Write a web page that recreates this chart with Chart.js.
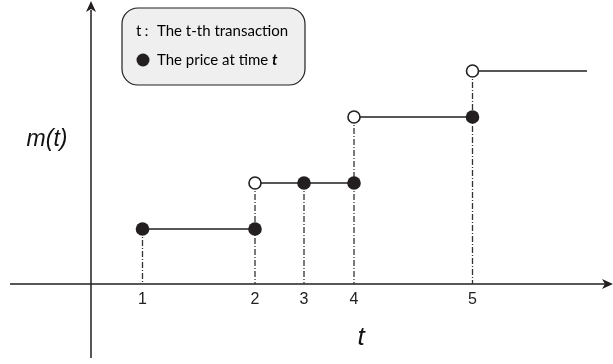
<!DOCTYPE html>
<html>
<head>
<meta charset="utf-8">
<script src="https://cdn.jsdelivr.net/npm/chart.js@4/dist/chart.umd.min.js"></script>
<style>
html,body{margin:0;padding:0;background:#fff;}
#c{display:block;}
</style>
</head>
<body>
<canvas id="c" width="613" height="364"></canvas>
<script>
// ---- data (time positions on a continuous time axis, price levels) ----
const transactionTimes = [5.15, 16.4, 21.3, 26.3, 38.15];
const tickLabels = ['1', '2', '3', '4', '5'];
const filledPrices = [5.5, 5.5, 10.1, 10.1, 16.7];
const openTimes = [16.4, 26.3, 38.15];
const openPrices = [10.1, 16.7, 21.3];
const stepStarts = [5.15, 16.4, 26.3, 38.15];
const stepEnds = [16.4, 26.3, 38.15, 49.6];
const stepLevels = [5.5, 10.1, 16.7, 21.3];
const dropTops = [5.5, 10.1, 10.1, 16.7, 21.3];
const xAxisRange = [-8.1, 51.6];
const yAxisRange = [-7.4, 27.4];
const xLimits = [-9.1, 52.2];
const yLimits = [-8.0, 28.4];

const INK = '#231f20';

// build datasets from arrays
const axisData = [
  {x: xAxisRange[0], y: 0}, {x: xAxisRange[1], y: 0}, {x: xAxisRange[1], y: null},
  {x: 0, y: yAxisRange[0]}, {x: 0, y: yAxisRange[1]}
];
const dropData = [];
transactionTimes.forEach((t, i) => {
  dropData.push({x: t, y: dropTops[i]}, {x: t, y: 0}, {x: t, y: null});
});
const stepData = [];
stepStarts.forEach((s, i) => {
  stepData.push({x: s, y: stepLevels[i]}, {x: stepEnds[i], y: stepLevels[i]}, {x: stepEnds[i], y: null});
});
const filledData = transactionTimes.map((t, i) => ({x: t, y: filledPrices[i]}));
const openData = openTimes.map((t, i) => ({x: t, y: openPrices[i]}));

const decorPlugin = {
  id: 'decor',
  afterDatasetsDraw(chart) {
    const ctx = chart.ctx;
    const xs = chart.scales.x, ys = chart.scales.y;
    const x0 = xs.getPixelForValue(0), y0 = ys.getPixelForValue(0);
    ctx.save();
    ctx.fillStyle = INK;
    // x arrow
    const xt = xs.getPixelForValue(xLimits[1]);
    ctx.beginPath();
    ctx.moveTo(xt, y0);
    ctx.lineTo(xt - 11, y0 - 5);
    ctx.lineTo(xt - 8, y0);
    ctx.lineTo(xt - 11, y0 + 5);
    ctx.closePath();
    ctx.fill();
    // y arrow
    const yt = ys.getPixelForValue(yLimits[1]) + 1;
    ctx.beginPath();
    ctx.moveTo(x0, yt);
    ctx.lineTo(x0 - 5, yt + 11);
    ctx.lineTo(x0, yt + 8);
    ctx.lineTo(x0 + 5, yt + 11);
    ctx.closePath();
    ctx.fill();

    // tick labels
    ctx.fillStyle = '#222';
    ctx.font = '16px "Liberation Sans", Arial, sans-serif';
    ctx.textAlign = 'center';
    ctx.textBaseline = 'middle';
    transactionTimes.forEach((t, i) => {
      ctx.fillText(tickLabels[i], xs.getPixelForValue(t), y0 + 16);
    });

    // axis titles
    ctx.fillStyle = '#111';
    ctx.font = 'italic 23px "Liberation Sans", Arial, sans-serif';
    ctx.textAlign = 'center';
    ctx.fillText('m(t)', 47, 140);
    ctx.font = 'italic 26px "Liberation Sans", Arial, sans-serif';
    ctx.fillText('t', 361, 338);

    // legend box
    const bx = 122, by = 8, bw = 183, bh = 77, r = 16;
    ctx.beginPath();
    ctx.roundRect(bx, by, bw, bh, r);
    ctx.fillStyle = '#efefef';
    ctx.fill();
    ctx.lineWidth = 1.2;
    ctx.strokeStyle = INK;
    ctx.stroke();

    ctx.fillStyle = '#000';
    ctx.textAlign = 'left';
    ctx.textBaseline = 'middle';
    ctx.font = '15px Lato, "Open Sans", sans-serif';
    ctx.fillText('t', 136, 31);
    ctx.fillText('：', 139, 31);
    ctx.fillText('The t-th transaction', 157, 31);
    ctx.beginPath();
    ctx.arc(143, 60, 6.5, 0, Math.PI * 2);
    ctx.fillStyle = INK;
    ctx.fill();
    ctx.fillStyle = '#000';
    const s = 'The price at time ';
    ctx.fillText(s, 157, 60);
    const w = ctx.measureText(s).width;
    ctx.font = 'italic bold 15px Lato, "Open Sans", sans-serif';
    ctx.fillText('t', 157 + w, 60);
    ctx.restore();
  }
};

new Chart(document.getElementById('c'), {
  type: 'scatter',
  data: {
    datasets: [
      {data: openData, showLine: false, pointRadius: 6, pointHoverRadius: 6,
       pointBackgroundColor: '#fff', pointBorderColor: INK, pointBorderWidth: 1.6, order: 1, clip: false},
      {data: filledData, showLine: false, pointRadius: 6.8, pointHoverRadius: 6.8,
       pointBackgroundColor: INK, pointBorderColor: INK, pointBorderWidth: 0, order: 2, clip: false},
      {data: stepData, showLine: true, spanGaps: false, pointRadius: 0, borderColor: INK,
       borderWidth: 1.5, order: 3, clip: false},
      {data: dropData, showLine: true, spanGaps: false, pointRadius: 0, borderColor: '#333',
       borderWidth: 1.3, borderDash: [6, 2, 1, 2], order: 4, clip: false},
      {data: axisData, showLine: true, spanGaps: false, pointRadius: 0, borderColor: INK,
       borderWidth: 1.5, order: 5, clip: false}
    ]
  },
  options: {
    responsive: false,
    animation: false,
    events: [],
    layout: {padding: 0, autoPadding: false},
    plugins: {legend: {display: false}, tooltip: {enabled: false}},
    scales: {
      x: {type: 'linear', display: false, min: xLimits[0], max: xLimits[1]},
      y: {type: 'linear', display: false, min: yLimits[0], max: yLimits[1]}
    }
  },
  plugins: [decorPlugin]
});
</script>
</body>
</html>
